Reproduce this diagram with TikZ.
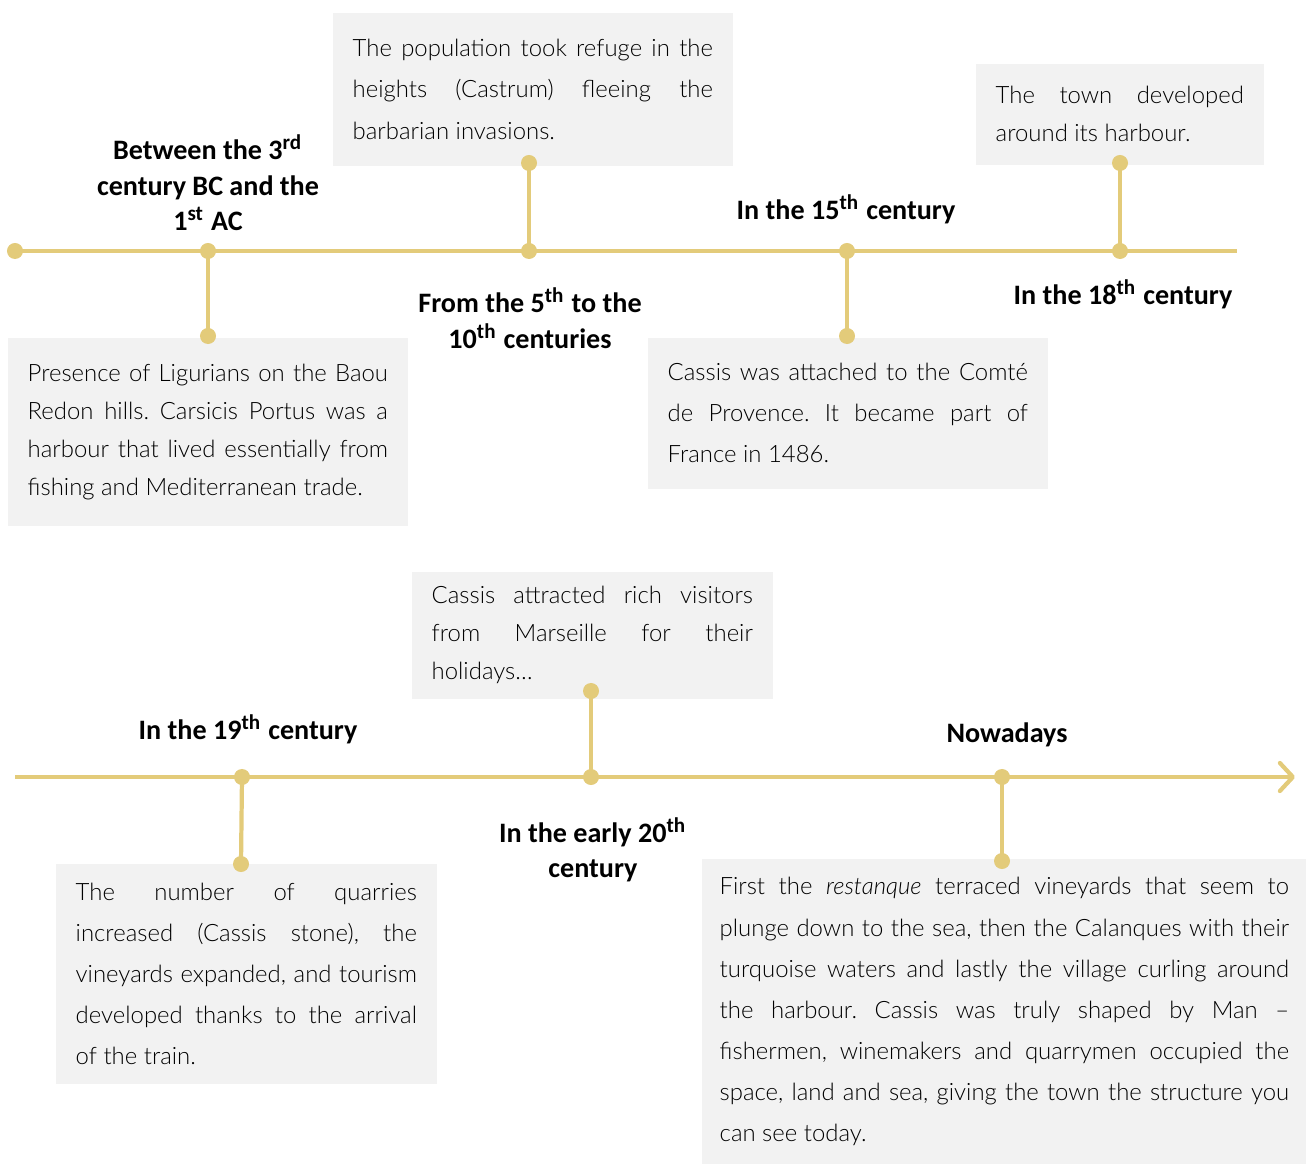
\documentclass[tikz,border=0pt]{standalone}
\usepackage{fontspec}
\usetikzlibrary{arrows.meta}
\newfontfamily\bodyfont{Lato Light}
\newfontfamily\erafont{Carlito}
\definecolor{gold}{HTML}{E3CB7A}
\definecolor{boxgray}{HTML}{F2F2F2}
\frenchspacing
\tikzset{
  info/.style={fill=boxgray, align=justify, anchor=north west, inner xsep=0.2cm, inner ysep=0pt},
  era/.style={font=\erafont\bfseries\fontsize{8}{10.1}\selectfont, align=center, inner sep=0pt},
  dot/.style={circle, fill=gold, inner sep=0pt, minimum size=0.16cm},
  tl/.style={gold, line width=1.2pt}
}
\newcommand{\bodysize}[1]{\bodyfont\fontsize{6.8}{#1}\selectfont\frenchspacing\tolerance=9999\hyphenpenalty=10000}
\begin{document}
\begin{tikzpicture}[x=0.01cm,y=-0.01cm]
    \useasboundingbox (0,0) rectangle (1306,1164);

    % Boxes
    \node[info, text width=3.6cm, minimum height=1.88cm, font=\bodysize{10.8pt}] (b1) at (7,337)
      {Presence of Ligurians on the Baou\linebreak Redon hills. Carsicis Portus was a\linebreak harbour that lived essentially from\linebreak fishing and Mediterranean trade.};
    \node[info, text width=3.6cm, minimum height=1.53cm, font=\bodysize{11.8pt}] (b2) at (332,12)
      {The population took refuge in the\linebreak heights (Castrum) fleeing the\linebreak barbarian invasions.};
    \node[info, text width=3.6cm, minimum height=1.51cm, font=\bodysize{11.7pt}] (b3) at (647,337)
      {Cassis was attached to the Comté\linebreak de Provence. It became part of\linebreak France in 1486.};
    \node[info, text width=2.48cm, minimum height=1.01cm, font=\bodysize{10.8pt}] (b4) at (975,63)
      {The town developed\linebreak around its harbour.};
    \node[info, text width=3.21cm, minimum height=1.27cm, font=\bodysize{10.8pt}] (b5) at (411,571)
      {Cassis attracted rich visitors\linebreak from Marseille for their\linebreak holidays…};
    \node[info, text width=3.41cm, minimum height=2.2cm, font=\bodysize{11.7pt}] (b6) at (55,863)
      {The number of quarries\linebreak increased (Cassis stone), the\linebreak vineyards expanded, and tourism\linebreak developed thanks to the arrival\linebreak of the train.};
    \node[info, text width=5.69cm, inner xsep=0.18cm, minimum height=3.06cm, font=\bodysize{11.7pt}] (b7) at (701,858)
      {First the \textit{restanque} terraced vineyards that seem to\linebreak plunge down to the sea, then the Calanques with their\linebreak turquoise waters and lastly the village curling around\linebreak the harbour. Cassis was truly shaped by Man –\linebreak fishermen, winemakers and quarrymen occupied the\linebreak space, land and sea, giving the town the structure you\linebreak can see today.};

    % Upper timeline
    \coordinate (t1end) at (1237,251);
    \node[dot] (a0) at (15,251) {};
    \node[dot] (a1) at (208,251) {};
    \node[dot] (a2) at (529,251) {};
    \node[dot] (a3) at (847,251) {};
    \node[dot] (a4) at (1120,251) {};
    \draw[tl] (a0.center) -- (t1end);

    % Lower timeline
    \coordinate (t2start) at (15,777);
    \coordinate (t2end) at (1295,777);
    \node[dot] (c1) at (242,777) {};
    \node[dot] (c2) at (591,777) {};
    \node[dot] (c3) at (1002,777) {};
    \draw[tl, -{Straight Barb[round, length=1.3mm, width=2.8mm]}] (t2start) -- (t2end);

    % Stems
    \node[dot] (e1) at (208,336) {};
    \node[dot] (e2) at (529,163) {};
    \node[dot] (e3) at (847,336) {};
    \node[dot] (e4) at (1120,163) {};
    \node[dot] (f1) at (241,864) {};
    \node[dot] (f2) at (591,691) {};
    \node[dot] (f3) at (1002,861) {};
    \foreach \p/\q in {a1/e1, a2/e2, a3/e3, a4/e4, c1/f1, c2/f2, c3/f3}
      \draw[tl] (\p.center) -- (\q.center);

    % Labels
    \node[era] (l1) at (208,183) {Between the 3\textsuperscript{rd}\\century BC and the\\1\textsuperscript{st} AC};
    \node[era] (l2) at (530,318) {From the 5\textsuperscript{th} to the\\10\textsuperscript{th} centuries};
    \node[era] (l3) at (846,209) {In the 15\textsuperscript{th} century};
    \node[era] (l4) at (1123,294) {In the 18\textsuperscript{th} century};
    \node[era] (l5) at (248,729) {In the 19\textsuperscript{th} century};
    \node[era] (l6) at (593,850) {In the early 20\textsuperscript{th}\\century};
    \node[era] (l7) at (1007,735) {Nowadays};

  \end{tikzpicture}
\end{document}
